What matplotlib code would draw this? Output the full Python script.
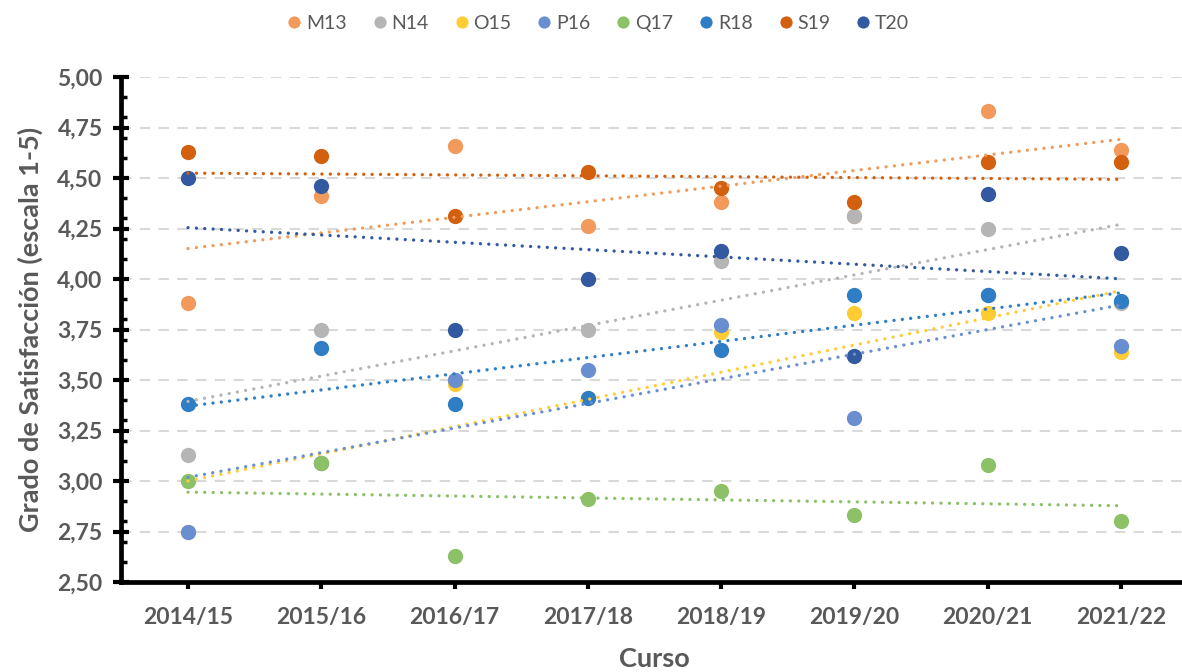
import numpy as np
import matplotlib.pyplot as plt
from matplotlib.ticker import MultipleLocator, FuncFormatter

plt.rcParams['font.family'] = ['Lato', 'DejaVu Sans']

# Cursos y grado de satisfaccion por asignatura
cursos = ['2014/15', '2015/16', '2016/17', '2017/18', '2018/19', '2019/20', '2020/21', '2021/22']
m13 = [3.88, 4.41, 4.66, 4.26, 4.38, 4.31, 4.83, 4.64]
n14 = [3.13, 3.75, 3.50, 3.75, 4.09, 4.31, 4.25, 3.88]
o15 = [2.75, 3.09, 3.48, 3.41, 3.74, 3.83, 3.83, 3.64]
p16 = [2.75, 3.09, 3.50, 3.55, 3.77, 3.31, 3.92, 3.67]
q17 = [3.00, 3.09, 2.63, 2.91, 2.95, 2.83, 3.08, 2.80]
r18 = [3.38, 3.66, 3.38, 3.41, 3.65, 3.92, 3.92, 3.89]
s19 = [4.63, 4.61, 4.31, 4.53, 4.45, 4.38, 4.58, 4.58]
t20 = [4.50, 4.46, 3.75, 4.00, 4.14, 3.62, 4.42, 4.13]

nombres = ['M13', 'N14', 'O15', 'P16', 'Q17', 'R18', 'S19', 'T20']
series = [m13, n14, o15, p16, q17, r18, s19, t20]
colores = ['#F19A5B', '#B5B5B5', '#FFCC33', '#6A8FD0', '#8CC168',
           '#2F7DC4', '#D2600F', '#335AA0']

gris = '#595959'

fig = plt.figure(figsize=(11.82, 6.72), dpi=100)
ax = fig.add_axes([0.1027, 0.1339, 0.9021, 0.7515])

x = np.arange(len(cursos))

# puntos
for nom, y, c in zip(nombres, series, colores):
    ax.plot(x, y, 'o', ms=11, color=c, mec='none', label=nom, zorder=3)

# lineas de tendencia (lineal)
for y, c in zip(series, colores):
    a, b = np.polyfit(x, y, 1)
    ax.plot(x, a * x + b, color=c, lw=2.4, ls=(0, (0.01, 2.5)),
            dash_capstyle='round', zorder=4)

ax.set_xlim(-0.5, 7.5)
ax.set_ylim(2.5, 5.0)
ax.set_xticks(x)
ax.set_xticklabels(cursos)
ax.yaxis.set_major_locator(MultipleLocator(0.25))
ax.yaxis.set_minor_locator(MultipleLocator(0.1))
ax.yaxis.set_major_formatter(FuncFormatter(lambda v, p: f'{v:.2f}'.replace('.', ',')))

ax.grid(axis='y', color='#D9D9D9', lw=1.5, ls=(0, (5, 4)), zorder=0)
ax.set_axisbelow(True)

for s in ['top', 'right']:
    ax.spines[s].set_visible(False)
for s in ['left', 'bottom']:
    ax.spines[s].set_linewidth(3.4)
    ax.spines[s].set_zorder(5)

ax.tick_params(axis='y', which='major', direction='inout', length=11, width=3,
               pad=8, labelsize=16.5, labelcolor=gris)
ax.tick_params(axis='y', which='minor', direction='in', length=4.5, width=2.5)
ax.tick_params(axis='x', which='major', direction='out', length=5, width=3,
               pad=13, labelsize=16.5, labelcolor=gris)
for lab in ax.get_xticklabels() + ax.get_yticklabels():
    lab.set_fontweight('bold')

ax.set_ylabel('Grado de Satisfacción (escala 1-5)', fontsize=19.5, fontweight='bold',
              color=gris, labelpad=10)
ax.set_xlabel('Curso', fontsize=19.5, fontweight='bold', color=gris, labelpad=14)

fig.legend(loc='center', bbox_to_anchor=(0.505, 0.965), ncol=8, frameon=False,
           fontsize=14, labelcolor=gris, markerscale=0.8, handletextpad=0.1,
           columnspacing=1.2, handlelength=1.0)

fig.savefig('out.png', dpi=100)
